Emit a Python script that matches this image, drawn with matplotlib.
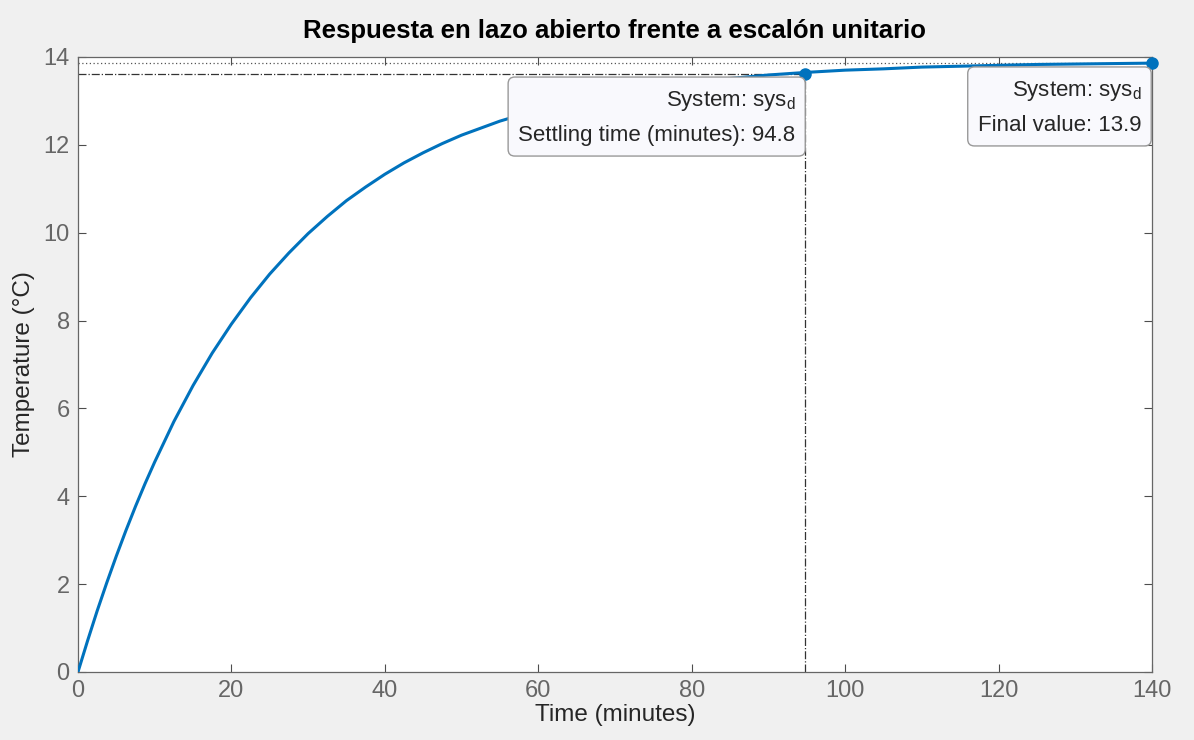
import numpy as np
import matplotlib
matplotlib.use('Agg')
from matplotlib import pyplot as plt

# step response
t = [0, 1.25, 2.5, 3.75, 5, 6.25, 7.5, 8.75, 10, 12.5, 15, 17.5, 20, 22.5, 25, 27.5, 30,
     32.5, 35, 37.5, 40, 42.5, 45, 47.5, 50, 52.5, 55, 57.5, 60, 62.5, 65, 67.5, 70,
     72.5, 75, 77.5, 80, 85, 90, 95, 100, 105, 110, 115, 120, 125, 130, 135, 140]
y = [0, 0.71, 1.39, 2.03, 2.64, 3.22, 3.77, 4.29, 4.78, 5.70, 6.52, 7.26, 7.92, 8.52,
     9.06, 9.54, 9.98, 10.37, 10.73, 11.04, 11.33, 11.59, 11.82, 12.03, 12.22, 12.38,
     12.54, 12.67, 12.79, 12.90, 13.00, 13.09, 13.18, 13.25, 13.31, 13.37, 13.42, 13.51,
     13.59, 13.65, 13.70, 13.73, 13.77, 13.79, 13.81, 13.83, 13.84, 13.85, 13.86]

final_value = 13.86
settle_t = 94.8
settle_y = 13.62
xticks = [0, 20, 40, 60, 80, 100, 120, 140]
yticks = [0, 2, 4, 6, 8, 10, 12, 14]

plt.rcParams['font.family'] = ['Liberation Sans', 'DejaVu Sans']
plt.rcParams['mathtext.fontset'] = 'custom'
plt.rcParams['mathtext.rm'] = 'Liberation Sans'
fig = plt.figure(figsize=(11.94, 7.4), dpi=100, facecolor='#f0f0f0')
ax = fig.add_axes([0.0653, 0.0919, 0.8995, 0.8311])

blue = '#0072bd'
gray = '#4d4d4d'
ax.plot(t, y, color=blue, lw=2.2, zorder=3)
ax.axhline(final_value, color='#555555', lw=0.9, ls=(0, (1, 2)), zorder=2)
ax.plot([0, settle_t], [settle_y, settle_y], color='#333333', lw=0.9, ls='-.', zorder=2)
ax.plot([settle_t, settle_t], [0, settle_y], color='#333333', lw=0.9, ls='-.', zorder=2)
ax.plot([settle_t], [settle_y], 'o', color=blue, ms=8, zorder=5, clip_on=False)
ax.plot([140], [final_value], 'o', color=blue, ms=8, zorder=5, clip_on=False)

box = dict(boxstyle='round,pad=0.45,rounding_size=0.3', fc='#f9f9fd', ec='#999999', lw=1)
ax.text(93.5, 13.27, 'System: sys$_\\mathrm{d}$\nSettling time (minutes): 94.8',
        ha='right', va='top', fontsize=16, color='#262626', linespacing=1.75,
        bbox=box, zorder=6, multialignment='right')
ax.text(138.6, 13.5, 'System: sys$_\\mathrm{d}$\nFinal value: 13.9',
        ha='right', va='top', fontsize=16, color='#262626', linespacing=1.75,
        bbox=box, zorder=6, multialignment='right')

ax.set_xlim(0, 140)
ax.set_ylim(0, 14)
ax.set_xticks(xticks)
ax.set_yticks(yticks)
ax.tick_params(direction='in', top=True, right=True, length=6, width=0.8,
               colors=gray, labelsize=17, labelcolor='#666666', pad=6)
for s in ax.spines.values():
    s.set_color('#666666')
    s.set_linewidth(0.9)

ax.set_xlabel('Time (minutes)', fontsize=17.5, color='#262626', labelpad=1)
ax.set_ylabel('Temperature (°C)', fontsize=17.5, color='#262626', labelpad=6)
ax.set_title('Respuesta en lazo abierto frente a escalón unitario', fontsize=18.5,
             fontweight='bold', color='black', pad=14)

fig.savefig('out.png', dpi=100, facecolor=fig.get_facecolor())
